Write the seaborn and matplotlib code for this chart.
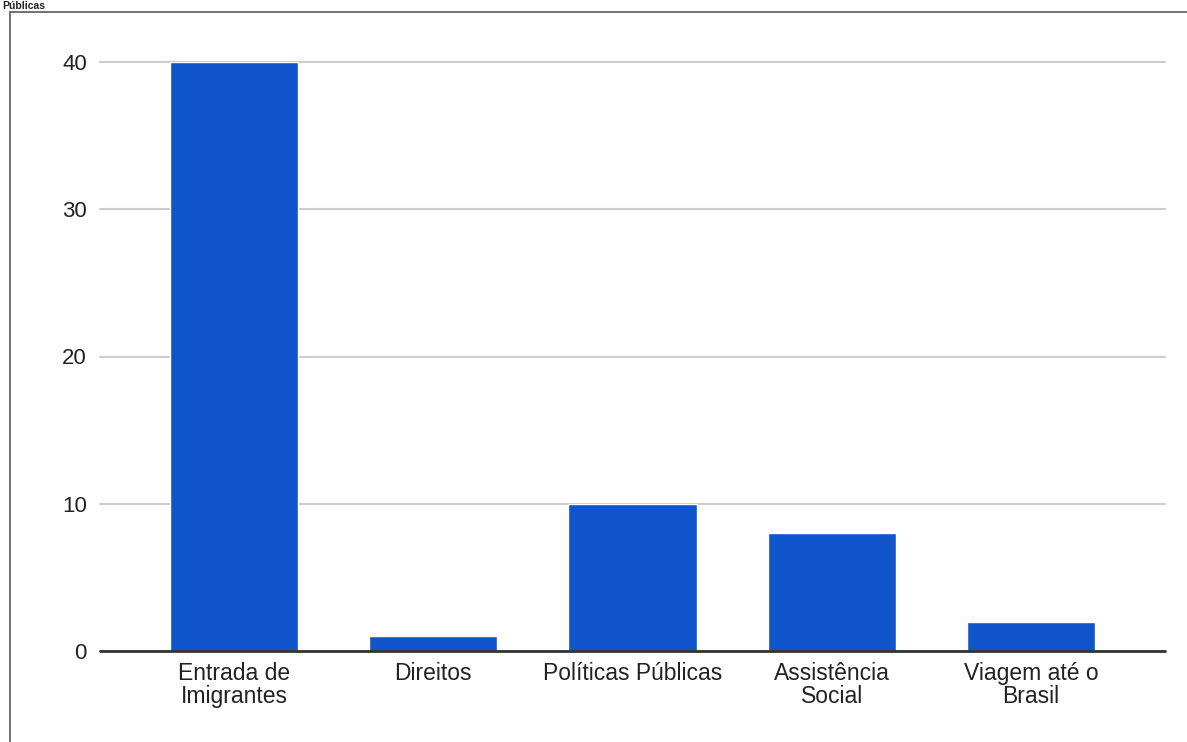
import matplotlib
matplotlib.use("Agg")
import matplotlib.pyplot as plt
import seaborn as sns
import pandas as pd
from matplotlib.patches import Rectangle

categories = ["Entrada de\nImigrantes", "Direitos", "Políticas Públicas", "Assistência\nSocial", "Viagem até o\nBrasil"]
values = [40, 1, 10, 8, 2]
yticks = [0, 10, 20, 30, 40]
title = "Públicas"

sns.set_theme(style="white")
plt.rcParams['font.family'] = ['Liberation Sans', 'DejaVu Sans']

df = pd.DataFrame({"cat": categories, "val": values})

fig = plt.figure(figsize=(11.87, 7.42), dpi=100)
ax = fig.add_axes([100/1187, 1 - 651/742, 1065/1187, (651 - 62)/742])

sns.barplot(data=df, x="cat", y="val", color="#1155cc", saturation=1, width=0.643, ax=ax, zorder=3)

ax.set_xlim(-0.673, 4.673)
ax.set_ylim(0, 40)
ax.set_yticks(yticks)
ax.set_yticklabels([str(t) for t in yticks])
ax.set_xlabel("")
ax.set_ylabel("")
for s in ax.spines.values():
    s.set_visible(False)
ax.grid(axis="y", color="#cccccc", linewidth=1.5, zorder=0)
for gl in ax.get_ygridlines():
    gl.set_clip_on(False)
ax.axhline(0, color="#333333", linewidth=2, zorder=4, clip_on=False)
ax.tick_params(axis="y", length=0, pad=9.5, labelsize=16, labelcolor="#222222")
ax.tick_params(axis="x", length=0, pad=8, labelsize=16.5, labelcolor="#222222")
for lbl in ax.get_xticklabels():
    lbl.set_linespacing(1.0)

# outer border (top & left visible)
fig.patches.append(Rectangle((10/1187, -0.1), 1.2, 1 - 12/742 + 0.1, transform=fig.transFigure,
                             fill=False, edgecolor="#666666", linewidth=1.3))
fig.text(2/1187, 1 - 9/742, title, fontsize=7.5, fontweight="bold", color="#222222",
         ha="left", va="baseline")

fig.savefig("out.png", dpi=100)
